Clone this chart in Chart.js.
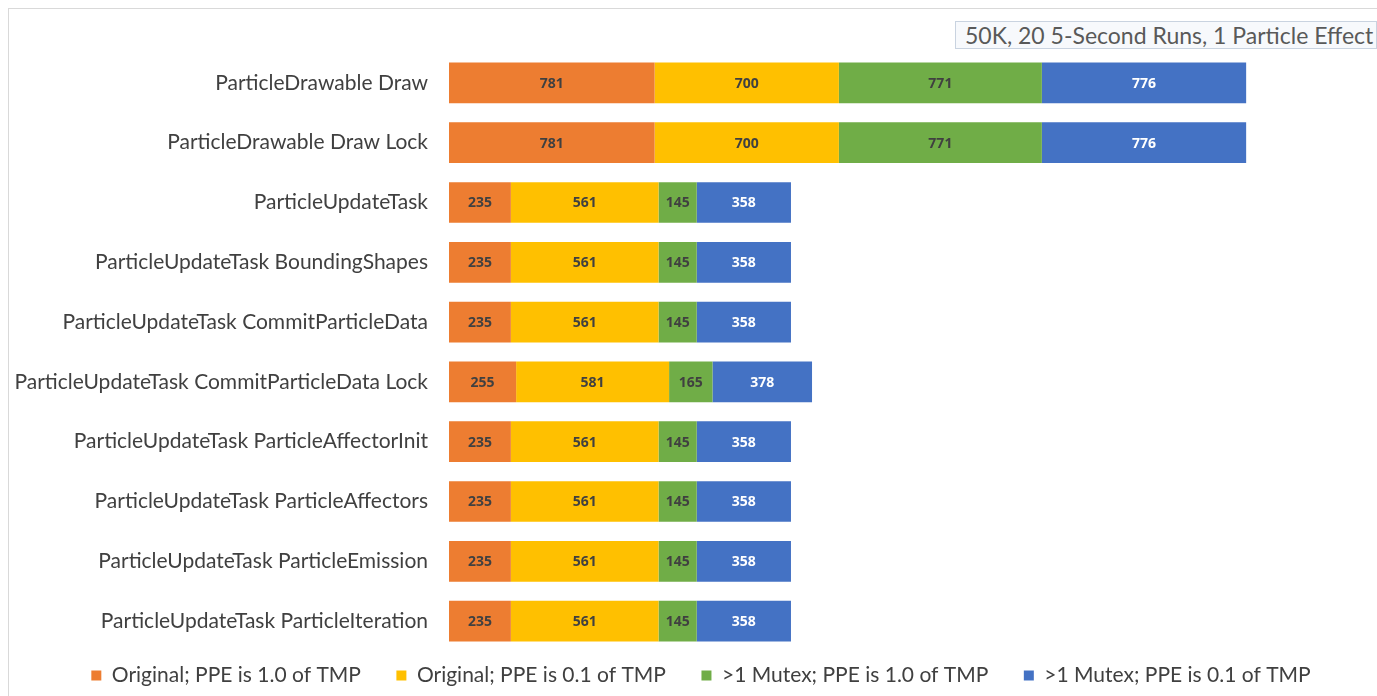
<!DOCTYPE html>
<html>
<head>
<meta charset="utf-8">
<script src="https://cdn.jsdelivr.net/npm/chart.js@4"></script>
<style>
  body{margin:0;background:#fff;}
  #wrap{position:relative;width:1377px;height:696px;overflow:hidden;}
  #frame{position:absolute;left:8px;top:8px;right:0;bottom:0;border-left:1px solid #d9d9d9;border-top:1px solid #d9d9d9;pointer-events:none;}
  #title{position:absolute;left:955px;top:21px;width:422px;height:28px;border:1px solid #c9d3e0;background:#f7f9fc;
    font-family:Lato,sans-serif;font-size:23px;color:#595959;line-height:26px;padding-left:9px;box-sizing:border-box;white-space:nowrap;}
</style>
</head>
<body>
<div id="wrap">
  <canvas id="myChart" width="1402" height="696"></canvas>
  <div id="frame"></div>
  <div id="title">50K, 20 5-Second Runs, 1 Particle Effect</div>
</div>
<script>
var categories = [
  "ParticleDrawable Draw",
  "ParticleDrawable Draw Lock",
  "ParticleUpdateTask",
  "ParticleUpdateTask BoundingShapes",
  "ParticleUpdateTask CommitParticleData",
  "ParticleUpdateTask CommitParticleData Lock",
  "ParticleUpdateTask ParticleAffectorInit",
  "ParticleUpdateTask ParticleAffectors",
  "ParticleUpdateTask ParticleEmission",
  "ParticleUpdateTask ParticleIteration"
];
var seriesNames = [
  "Original; PPE is 1.0 of TMP",
  "Original; PPE is 0.1 of TMP",
  ">1 Mutex; PPE is 1.0 of TMP",
  ">1 Mutex; PPE is 0.1 of TMP"
];
var origFull  = [781, 781, 235, 235, 235, 255, 235, 235, 235, 235];
var origTenth = [700, 700, 561, 561, 561, 581, 561, 561, 561, 561];
var mutexFull = [771, 771, 145, 145, 145, 165, 145, 145, 145, 145];
var mutexTenth= [776, 776, 358, 358, 358, 378, 358, 358, 358, 358];

var colors = ["#ED7D31", "#FFC000", "#70AD47", "#4472C4"];
var labelColors = ["#404040", "#404040", "#404040", "#ffffff"];

// draws the value in the middle of each bar segment
var barLabels = {
    id: "barLabels",
    afterDatasetsDraw: function(chart){
        var ctx = chart.ctx;
        ctx.save();
        ctx.font = "bold 14px 'Open Sans', sans-serif";
        ctx.textAlign = "center";
        ctx.textBaseline = "middle";
        chart.data.datasets.forEach(function(ds, i){
            var meta = chart.getDatasetMeta(i);
            meta.data.forEach(function(bar, j){
                ctx.fillStyle = labelColors[i];
                var cx = (bar.x + bar.base) / 2;
                ctx.fillText(ds.data[j], cx, bar.y + 1);
            });
        });
        ctx.restore();
    }
};

var datasets = [origFull, origTenth, mutexFull, mutexTenth].map(function(d, i){
    return {
        label: seriesNames[i],
        data: d,
        backgroundColor: colors[i],
        borderWidth: 0,
        barPercentage: 0.68,
        categoryPercentage: 1.0
    };
});

var ctx = document.getElementById('myChart').getContext('2d');
var myChart = new Chart(ctx, {
    type: 'bar',
    data: { labels: categories, datasets: datasets },
    plugins: [barLabels],
    options: {
        indexAxis: 'y',
        responsive: false,
        animation: false,
        layout: { padding: { top: 53, right: 0, bottom: 0, left: 0 } },
        plugins: {
            legend: {
                position: 'bottom',
                labels: {
                    boxWidth: 10, boxHeight: 10, padding: 14,
                    color: '#404040',
                    font: { family: "Lato, sans-serif", size: 21 },
                    generateLabels: function(chart){
                        var items = Chart.defaults.plugins.legend.labels.generateLabels(chart);
                        // extra room between the entries like the original legend
                        items.forEach(function(it, i){ if(i < items.length - 1) it.text += "    "; });
                        return items;
                    }
                }
            },
            tooltip: { enabled: false }
        },
        scales: {
            x: { stacked: true, min: 0, max: 3620, display: false },
            y: {
                stacked: true,
                grid: { display: false },
                border: { display: false },
                ticks: {
                    color: '#404040',
                    padding: 13,
                    font: { family: "Lato, sans-serif", size: 21 }
                },
                afterFit: function(scale){ scale.width = 449; }
            }
        }
    }
});
</script>
</body>
</html>
